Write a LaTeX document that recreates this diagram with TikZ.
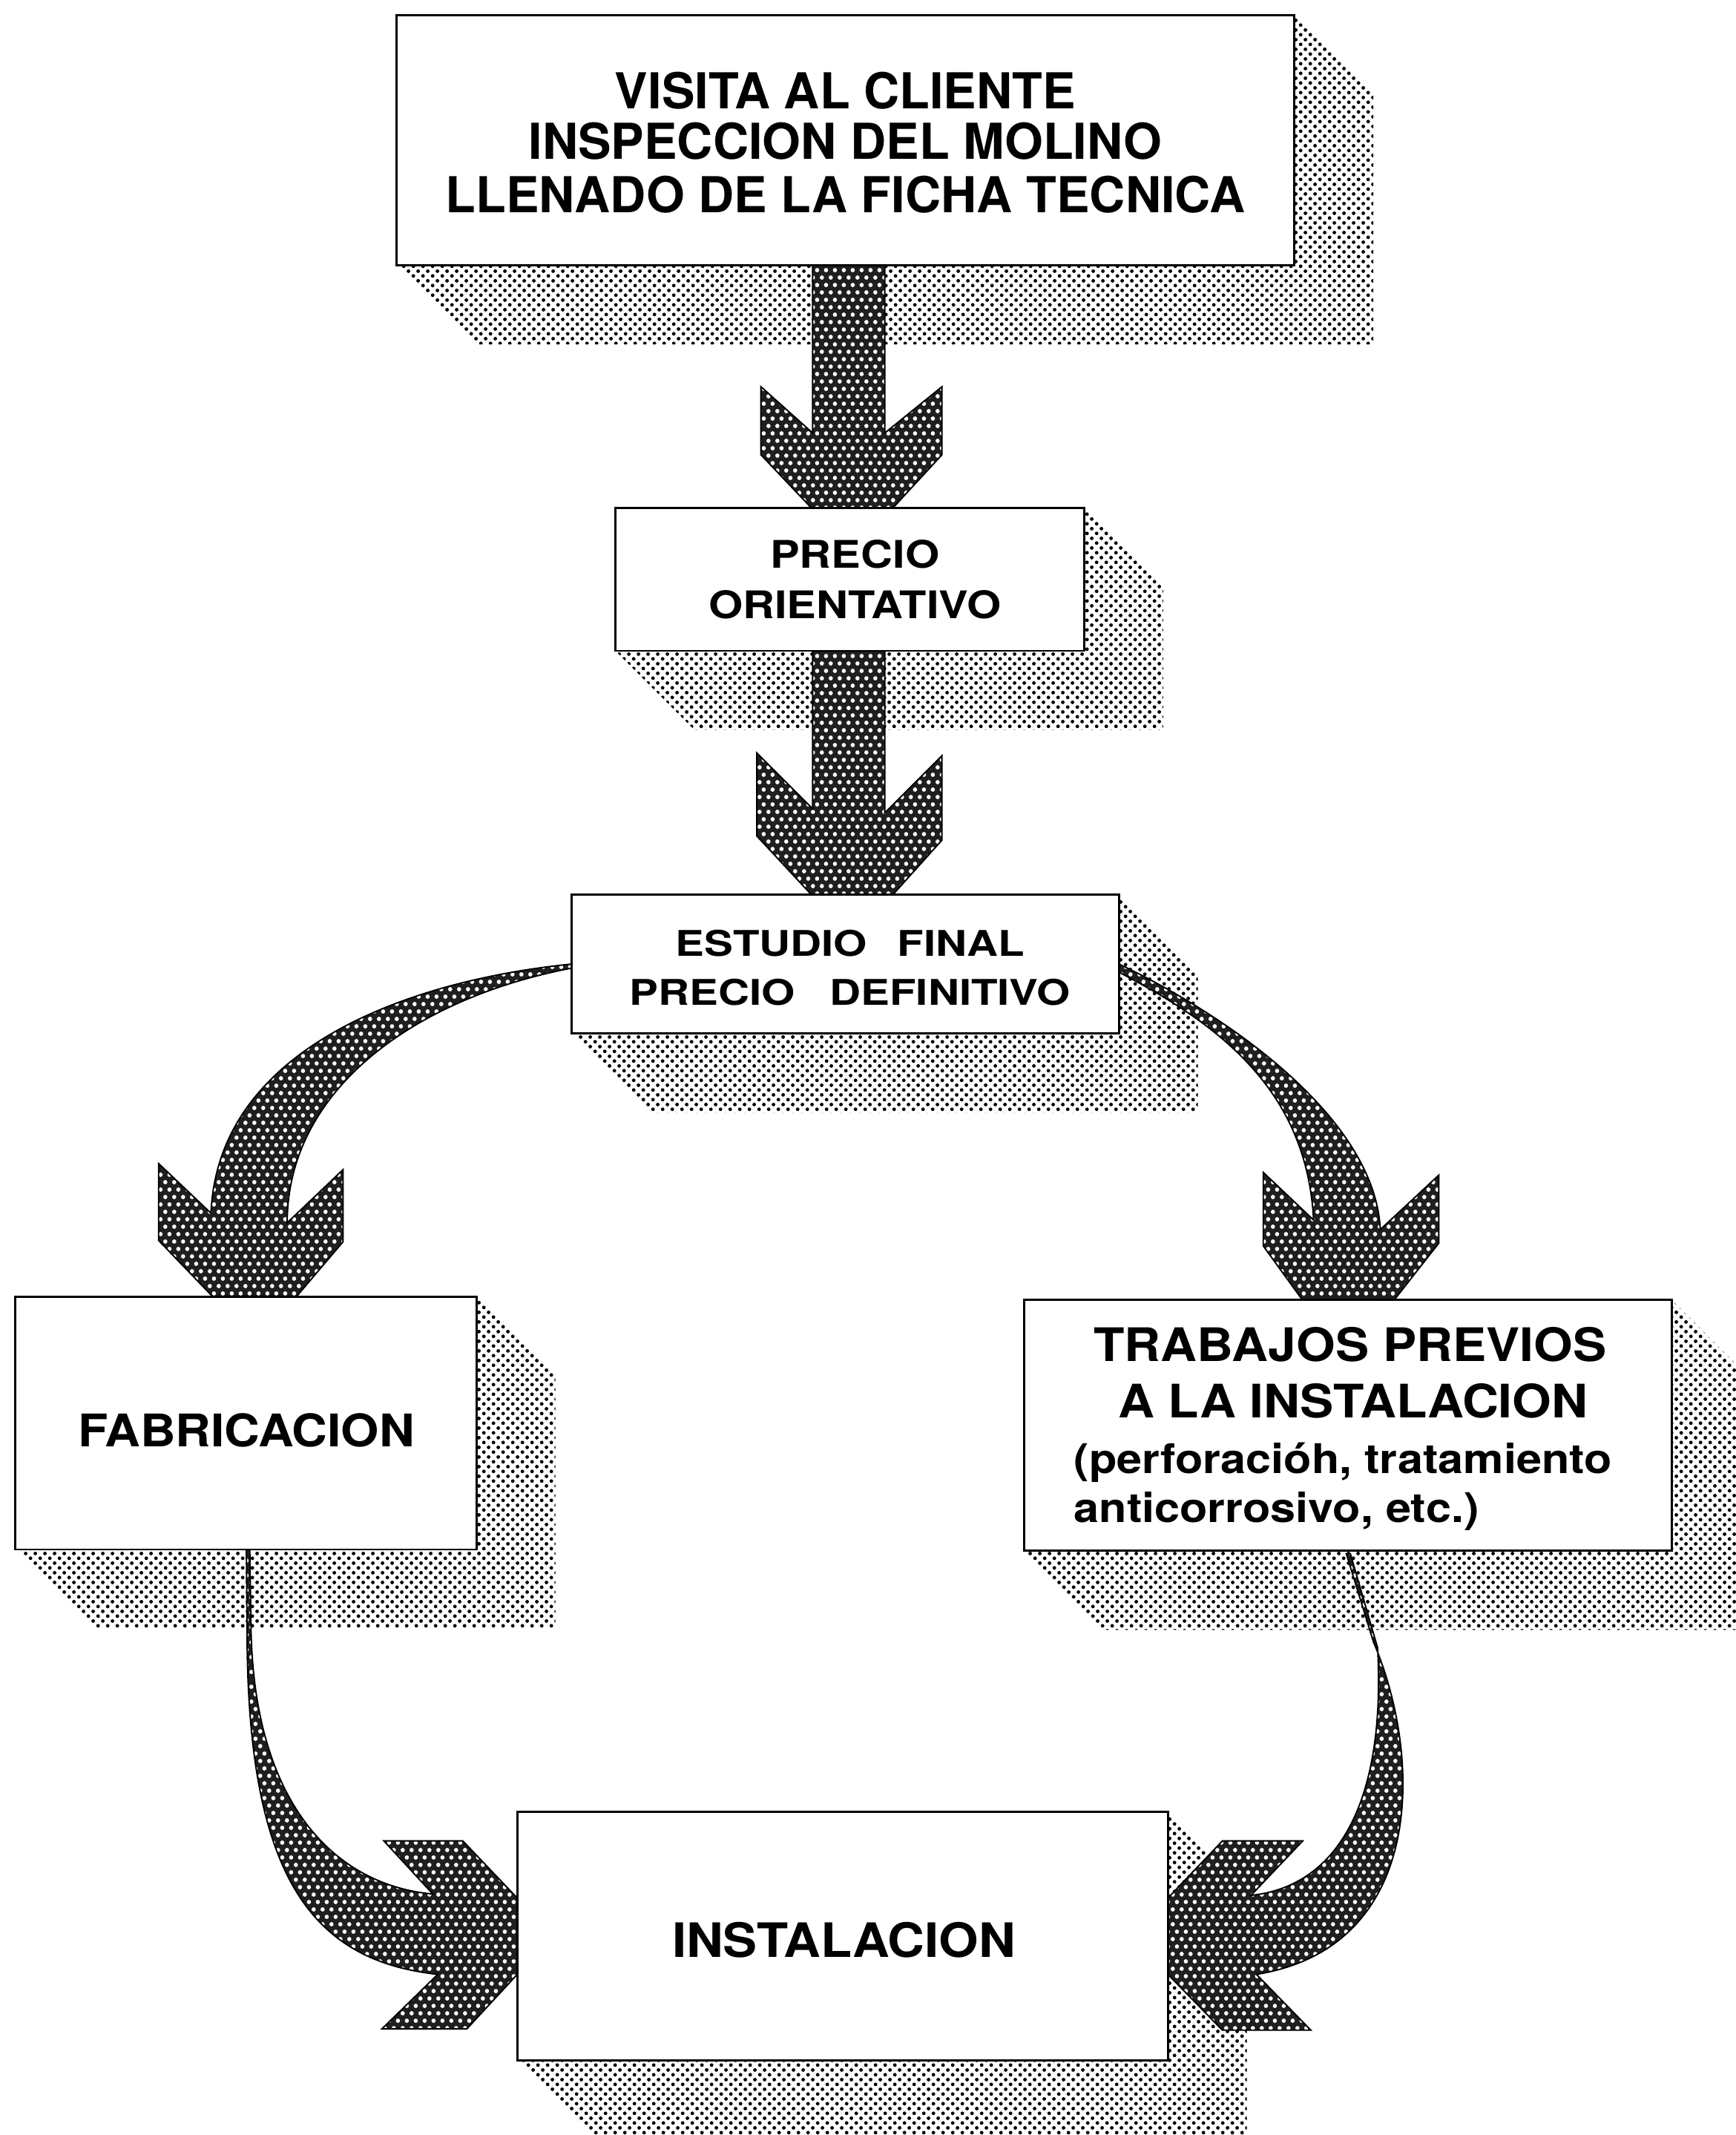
\documentclass[tikz,border=0pt]{standalone}
\usepackage{fontspec}
\usepackage{graphicx}
\setmainfont{TeX Gyre Heros}
\usetikzlibrary{patterns,calc}
\pgfdeclarelayer{paper}
\pgfdeclarelayer{bg}
\pgfdeclarelayer{mid}
\pgfsetlayers{paper,bg,mid,main}
\pgfdeclarepatternformonly{shadowdots}{\pgfpointorigin}{\pgfpoint{4pt}{4pt}}{\pgfpoint{4pt}{4pt}}{%
  \pgfpathcircle{\pgfpoint{1pt}{1pt}}{0.76pt}%
  \pgfpathcircle{\pgfpoint{3pt}{3pt}}{0.76pt}%
  \pgfusepath{fill}}
\pgfdeclarepatternformonly{arrowholes}{\pgfpointorigin}{\pgfpoint{3.6pt}{6.2pt}}{\pgfpoint{3.6pt}{6.2pt}}{%
  \pgfpathellipse{\pgfpoint{0.9pt}{1.55pt}}{\pgfpoint{0.9pt}{0pt}}{\pgfpoint{0pt}{0.9pt}}%
  \pgfpathellipse{\pgfpoint{2.7pt}{4.65pt}}{\pgfpoint{0.9pt}{0pt}}{\pgfpoint{0pt}{0.9pt}}%
  \pgfusepath{fill}}
\newcommand\fontboxA{\fontsize{20.7pt}{24pt}\selectfont\bfseries}
\newcommand\fontboxB{\fontsize{15.9pt}{19pt}\selectfont\bfseries}
\newcommand\fontboxC{\fontsize{14.8pt}{18pt}\selectfont\bfseries}
\newcommand\fontboxD{\fontsize{18.8pt}{22pt}\selectfont\bfseries}
\newcommand\fontboxE{\fontsize{19.3pt}{23pt}\selectfont\bfseries}
\newcommand\fontboxF{\fontsize{17.1pt}{20pt}\selectfont\bfseries}
\newcommand\fontboxG{\fontsize{19.8pt}{23pt}\selectfont\bfseries}
\begin{document}
\begin{tikzpicture}[x=0.02cm, y=-0.02cm,
  box/.style={draw=black, line width=0.9pt, fill=white, inner sep=0pt, outer sep=0pt, rectangle},
  lbl/.style={anchor=base, inner sep=0pt, outer sep=0pt},
  lblw/.style={anchor=base west, inner sep=0pt, outer sep=0pt},
  shadowfill/.style={pattern=shadowdots, pattern color=black},
  arrowbody/.style={preaction={fill=black!88}, pattern=arrowholes, pattern color=white, draw=black, line width=0.6pt, line join=miter}]
\useasboundingbox (0,0) rectangle (1275,1568);
\begin{pgfonlayer}{paper}
\fill[white] (0,0) rectangle (1275,1568);
\end{pgfonlayer}

% boxes
\node[box, minimum width=13.2cm, minimum height=3.674cm] (b1) at (621,103.15) {};
\node[box, minimum width=6.89cm, minimum height=2.1cm] (b2) at (624.25,425.5) {};
\node[box, minimum width=8.04cm, minimum height=2.04cm] (b3) at (621,708) {};
\node[box, minimum width=6.78cm, minimum height=3.708cm] (b4) at (180.5,1045.3) {};
\node[box, minimum width=9.512cm, minimum height=3.688cm] (b5) at (990.2,1046.8) {};
\node[box, minimum width=9.56cm, minimum height=3.648cm] (b6) at (619,1421.8) {};

% texts
\node[lbl] (t1a) at (621,80) {\fontboxA VISITA AL CLIENTE};
\node[lbl] (t1b) at (621,117) {\fontboxA INSPECCION DEL MOLINO};
\node[lbl] (t1c) at (621,156) {\fontboxA LLENADO DE LA FICHA TECNICA};
\node[lbl] (t2a) at (628,417) {\fontboxB\scalebox{1.16}[1]{PRECIO}};
\node[lbl] (t2b) at (628,454.5) {\fontboxB\scalebox{1.16}[1]{ORIENTATIVO}};
\node[lbl] (t3a) at (624.5,702) {\fontboxC\scalebox{1.22}[1]{ESTUDIO\hspace{0.7em}FINAL}};
\node[lbl] (t3b) at (624.5,738.4) {\fontboxC\scalebox{1.22}[1]{PRECIO\hspace{0.8em}DEFINITIVO}};
\node[lbl] (t4) at (181,1062.7) {\fontboxD\scalebox{1.09}[1]{FABRICACION}};
\node[lbl] (t5a) at (992,1000) {\fontboxE\scalebox{1.09}[1]{TRABAJOS PREVIOS}};
\node[lbl] (t5b) at (994,1041) {\fontboxE\scalebox{1.09}[1]{A LA INSTALACION}};
\node[lblw] (t5c) at (789,1082) {\fontboxF\scalebox{1.11}[1]{(perforacióh, tratamiento}};
\node[lblw] (t5d) at (789,1118) {\fontboxF\scalebox{1.11}[1]{anticorrosivo, etc.)}};
\node[lbl] (t6) at (620,1437.6) {\fontboxG\scalebox{1.08}[1]{INSTALACION}};

% shadows
\begin{pgfonlayer}{bg}
\foreach \bx in {b1,b2,b3,b4,b5,b6} {
  \path[shadowfill] (\bx.north east) -- ++(58,58) -- ($(\bx.south east)+(58,58)$)
     -- ($(\bx.south west)+(58,58)$) -- (\bx.south west) -- cycle;
}
\end{pgfonlayer}

% arrows
\begin{pgfonlayer}{mid}
% b1 -> b2
\path[arrowbody] (b1.south -| 597,0) -- (597,318) -- (559,284) -- (559,334) -- (596,373)
  -- (656,373) -- (692,334) -- (692,284) -- (650,318) -- (b1.south -| 650,0) -- cycle;
% b2 -> b3
\path[arrowbody] (b2.south -| 597,0) -- (597,594) -- (556,553) -- (556,614) -- (596,657)
  -- (656,657) -- (692,617) -- (692,555) -- (650,597) -- (b2.south -| 650,0) -- cycle;
% b3 -> b4
\path[arrowbody] (b3.west) .. controls (300,720) and (160,770) .. (155,891)
  -- (116.5,854.5) -- (116.5,911) -- (156,952) -- (218,952) -- (252,912) -- (252,859)
  -- (211,898) .. controls (211,800) and (305,733) .. (420,711) -- cycle;
% b3 -> b5
\path[arrowbody] (b3.east) .. controls (900,745) and (1010,820) .. (1014,903)
  -- (1057,863) -- (1057,913) -- (1024,955) -- (957,955) -- (928,915) -- (928,861)
  -- (965,896) .. controls (960,800) and (895,752) .. (822,714) -- cycle;
% b4 -> b6
\path[arrowbody] (181,1138) -- (181.5,1200) .. controls (182,1380) and (230,1440) .. (321.6,1450)
  -- (280.6,1490) -- (343,1490) -- (b6.west |- 0,1450) -- (b6.west |- 0,1394) -- (340,1352) -- (282,1352)
  -- (318,1391) .. controls (250,1385) and (188,1330) .. (184.5,1200) -- (183.5,1138) -- cycle;
% b5 -> b6
\path[arrowbody] (989,1141) -- (1009,1206) .. controls (1045,1290) and (1048,1430) .. (923,1450)
  -- (963,1491) -- (898,1491) -- (b6.east |- 0,1450) -- (b6.east |- 0,1394) -- (898,1352) -- (957,1352)
  -- (919,1392) .. controls (985,1385) and (1018,1320) .. (1012,1210) -- (992,1141) -- cycle;
\end{pgfonlayer}
\end{tikzpicture}
\end{document}
